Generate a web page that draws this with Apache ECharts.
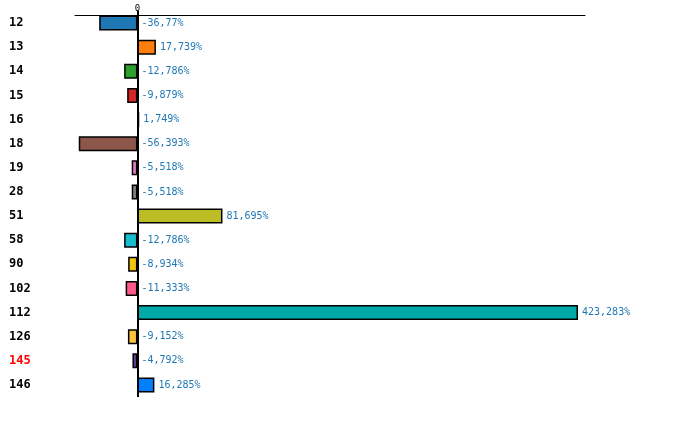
<!DOCTYPE html>
<html>
<head>
<meta charset="utf-8">
<script src="https://cdn.jsdelivr.net/npm/echarts@6/dist/echarts.min.js"></script>
<style>
  html, body { margin: 0; padding: 0; background: #fff; }
  #chart { width: 700px; height: 429px; }
</style>
</head>
<body>
<div id="chart"></div>
<script>
var categories = ['12', '13', '14', '15', '16', '18', '19', '28', '51', '58', '90', '102', '112', '126', '145', '146'];
var values = [-36.77, 17.739, -12.786, -9.879, 1.749, -56.393, -5.518, -5.518, 81.695, -12.786, -8.934, -11.333, 423.283, -9.152, -4.792, 16.285];
var colors = ['#1f77b4', '#ff7f0e', '#2ca02c', '#d62728', '#9467bd', '#8c564b', '#e377c2', '#7f7f7f',
  '#bcbd22', '#17becf', '#f2c40f', '#ff5c8d', '#00aaa8', '#fcc43d', '#6a3d9a', '#0080ff'];
var highlighted = '145';

var mono = '"DejaVu Sans Mono", "Liberation Mono", monospace';

var chart = echarts.init(document.getElementById('chart'));
chart.setOption({
  animation: false,
  grid: { left: 75, right: 115, top: 11, bottom: 32 },
  xAxis: {
    type: 'value',
    position: 'top',
    offset: -4,
    min: -60,
    max: 430,
    interval: 10,
    splitLine: { show: false },
    axisTick: { show: false },
    axisLine: { show: true, lineStyle: { color: '#000', width: 1 } },
    axisLabel: {
      fontFamily: mono, fontSize: 9, color: '#000', margin: 2,
      formatter: function (v) { return v === 0 ? '0' : ''; }
    }
  },
  yAxis: {
    type: 'category',
    inverse: true,
    data: categories,
    axisLine: { show: false },
    axisTick: { show: false },
    axisLabel: {
      align: 'left',
      margin: 66,
      fontFamily: mono,
      fontSize: 12,
      fontWeight: 'bold',
      color: function (v) { return v === highlighted ? '#ff0000' : '#000'; }
    }
  },
  series: [{
    type: 'bar',
    barWidth: 15,
    data: values.map(function (v, i) {
      return { value: v, itemStyle: { color: colors[i] } };
    }),
    itemStyle: { borderColor: '#000', borderWidth: 1.5 },
    label: {
      show: true,
      position: 'right',
      distance: 4,
      fontFamily: mono,
      fontSize: 10,
      color: '#1f77b4',
      formatter: function (p) { return String(p.value).replace('.', ',') + '%'; }
    },
    markLine: {
      silent: true,
      symbol: 'none',
      label: { show: false },
      lineStyle: { color: '#000', width: 2, type: 'solid' },
      data: [{ xAxis: 0 }]
    }
  }]
});
</script>
</body>
</html>
